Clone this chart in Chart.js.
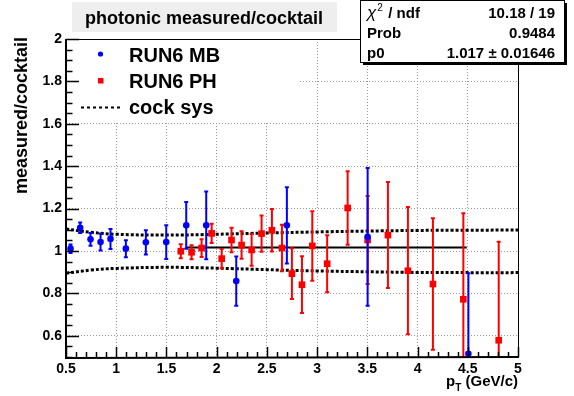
<!DOCTYPE html>
<html>
<head>
<meta charset="utf-8">
<script src="https://cdn.jsdelivr.net/npm/chart.js@4.4.1/dist/chart.umd.min.js"></script>
<style>
    html, body { margin: 0; padding: 0; background: #fff; }
    #contenedor { width: 574px; height: 396px; position: relative; }
</style>
</head>
<body>
<div id="contenedor"><canvas id="grafico" width="574" height="396"></canvas></div>
<script>
// RUN6 MB (azul)
let xMB   = [0.545, 0.641, 0.744, 0.844, 0.943, 1.096, 1.295, 1.498, 1.697, 1.896, 2.195, 2.699, 3.503, 4.506];
let yMB   = [1.011, 1.110, 1.055, 1.042, 1.057, 1.011, 1.041, 1.042, 1.121, 1.121, 0.858, 1.121, 1.067, 0.515];
let errMB = [0.020, 0.025, 0.030, 0.040, 0.047, 0.040, 0.057, 0.080, 0.110, 0.160, 0.116, 0.180, 0.325, 0.380];

// RUN6 PH (rojo)
let xPH   = [1.643, 1.75, 1.85, 1.95, 2.05, 2.148, 2.248, 2.348, 2.447, 2.55, 2.65, 2.749, 2.849, 2.952, 3.10, 3.304, 3.503, 3.705, 3.904, 4.153, 4.456, 4.808];
let yPH   = [0.999, 0.994, 1.014, 1.083, 0.964, 1.052, 1.028, 1.005, 1.082, 1.098, 1.014, 0.893, 0.841, 1.024, 0.940, 1.203, 1.052, 1.075, 0.907, 0.844, 0.772, 0.579];
let errPH = [0.033, 0.033, 0.042, 0.045, 0.045, 0.058, 0.065, 0.075, 0.086, 0.100, 0.110, 0.120, 0.134, 0.164, 0.134, 0.173, 0.208, 0.250, 0.300, 0.310, 0.406, 0.465];

// ajuste constante p0
let fitX = [1.69, 4.49];
let fitY = [1.017, 1.017];

// cock sys (bandas)
let sysX    = [0.5, 0.75, 1.0, 1.5, 2.0, 2.5, 3.0, 3.5, 4.0, 4.5, 5.0];
let sysUp   = [1.104, 1.088, 1.079, 1.075, 1.079, 1.085, 1.090, 1.094, 1.097, 1.098, 1.099];
let sysDown = [0.895, 0.910, 0.918, 0.923, 0.919, 0.912, 0.906, 0.902, 0.899, 0.898, 0.898];

// ejes
let xTicks = [0.5, 1, 1.5, 2, 2.5, 3, 3.5, 4, 4.5, 5];
let xTickLabels = ["0.5", "1", "1.5", "2", "2.5", "3", "3.5", "4", "4.5", "5"];
let yTicks = [0.6, 0.8, 1.0, 1.2, 1.4, 1.6, 1.8, 2.0];
let yTickLabels = ["0.6", "0.8", "1", "1.2", "1.4", "1.6", "1.8", "2"];

let statsLabels = ["ndf", "Prob", "p0"];
let statsValues = ["10.18 / 19", "0.9484", "1.017 \u00b1 0.01646"];

const FUENTE = "'Liberation Sans', Arial, Helvetica, sans-serif";

function puntos(xs, ys) {
    return xs.map((x, i) => ({ x: x, y: ys[i] }));
}

const pluginRoot = {
    id: "pluginRoot",
    beforeDatasetDraw(chart, args) {
        let ds = chart.data.datasets[args.index];
        if (!ds.errores) return;
        let ctx = chart.ctx, area = chart.chartArea;
        let sx = chart.scales.x, sy = chart.scales.y;
        ctx.save();
        ctx.beginPath();
        ctx.rect(area.left, area.top, area.right - area.left, area.bottom - area.top);
        ctx.clip();
        ctx.strokeStyle = ds.borderColor;
        ctx.lineWidth = 2;
        ds.data.forEach((p, i) => {
            let px = sx.getPixelForValue(p.x);
            let y1 = sy.getPixelForValue(p.y + ds.errores[i]);
            let y2 = sy.getPixelForValue(p.y - ds.errores[i]);
            ctx.beginPath();
            ctx.moveTo(px, y1); ctx.lineTo(px, y2);
            ctx.moveTo(px - 2, y1); ctx.lineTo(px + 2, y1);
            ctx.moveTo(px - 2, y2); ctx.lineTo(px + 2, y2);
            ctx.stroke();
        });
        ctx.restore();
    },
    afterDraw(chart) {
        let ctx = chart.ctx, a = chart.chartArea;
        let sx = chart.scales.x, sy = chart.scales.y;
        ctx.save();

        // leyenda
        ctx.fillStyle = "#fff";
        ctx.fillRect(a.left + 1, a.top + 1, 233, 83);
        ctx.fillStyle = "#0000ff";
        ctx.beginPath(); ctx.arc(100.5, 54, 2.6, 0, Math.PI * 2); ctx.fill();
        ctx.fillStyle = "#ff0000";
        ctx.fillRect(98, 78, 5.5, 5.5);
        ctx.strokeStyle = "#000"; ctx.lineWidth = 2; ctx.setLineDash([3, 3]);
        ctx.beginPath(); ctx.moveTo(81, 107.5); ctx.lineTo(120, 107.5); ctx.stroke();
        ctx.setLineDash([]);
        ctx.fillStyle = "#000";
        ctx.font = "bold 20px " + FUENTE;
        ctx.textAlign = "left"; ctx.textBaseline = "alphabetic";
        ctx.fillText("RUN6 MB", 129, 62);
        ctx.fillText("RUN6 PH", 129, 88);
        ctx.fillText("cock sys", 129, 114);

        // marco
        ctx.strokeStyle = "#000"; ctx.lineWidth = 1;
        ctx.strokeRect(a.left + 0.5, a.top + 0.5, a.right - a.left, a.bottom - a.top);
        ctx.lineWidth = 2;
        ctx.beginPath();
        ctx.moveTo(a.left, a.top); ctx.lineTo(a.left, a.bottom + 1); ctx.lineTo(a.right + 1, a.bottom);
        ctx.stroke();

        // marcas de los ejes
        ctx.lineWidth = 1.5;
        ctx.beginPath();
        for (let k = 5; k <= 50; k++) {
            let v = k / 10;
            let px = Math.round(sx.getPixelForValue(v)) + 0.5;
            let largo = (k % 5 === 0) ? 10 : 5;
            ctx.moveTo(px, a.bottom); ctx.lineTo(px, a.bottom - largo);
        }
        for (let k = 10; k <= 40; k++) {
            let v = k / 20;
            let py = Math.round(sy.getPixelForValue(v)) + 0.5;
            let largo = (k % 4 === 0) ? 13 : 6.5;
            ctx.moveTo(a.left, py); ctx.lineTo(a.left + largo, py);
        }
        ctx.stroke();

        // titulo eje y
        ctx.save();
        ctx.translate(22, 37);
        ctx.rotate(-Math.PI / 2);
        ctx.font = "bold 18px " + FUENTE;
        ctx.textAlign = "right"; ctx.textBaseline = "middle";
        ctx.fillText("measured/cocktail", 0, 0);
        ctx.restore();

        // titulo eje x
        ctx.textAlign = "left"; ctx.textBaseline = "alphabetic";
        ctx.font = "bold 15px " + FUENTE;
        let t2 = " (GeV/c)";
        let w2 = ctx.measureText(t2).width;
        let wp = ctx.measureText("p").width;
        ctx.font = "bold 10px " + FUENTE;
        let wT = ctx.measureText("T").width;
        let x0 = a.right - w2 - wT - wp;
        ctx.font = "bold 15px " + FUENTE;
        ctx.fillText("p", x0, 386);
        ctx.fillText(t2, x0 + wp + wT, 386);
        ctx.font = "bold 10px " + FUENTE;
        ctx.fillText("T", x0 + wp, 391);

        // caja del titulo
        ctx.fillStyle = "#eeeeee";
        ctx.fillRect(72, 2, 265, 30);
        ctx.fillStyle = "#000";
        ctx.font = "bold 18px " + FUENTE;
        ctx.textAlign = "center";
        ctx.fillText("photonic measured/cocktail", 204, 24);

        // caja de estadisticas
        ctx.fillStyle = "#000";
        ctx.fillRect(363, 3, 204, 62);
        ctx.fillStyle = "#fff";
        ctx.fillRect(360, 0, 204, 62);
        ctx.strokeStyle = "#000"; ctx.lineWidth = 1;
        ctx.strokeRect(360.5, 0.5, 204, 62);
        ctx.fillStyle = "#000";
        ctx.textAlign = "left";
        ctx.font = "italic 17px " + FUENTE;
        ctx.fillText("\u03c7", 367, 18);
        let wchi = ctx.measureText("\u03c7").width;
        ctx.font = "10px " + FUENTE;
        ctx.fillText("2", 367 + wchi + 1, 11);
        ctx.font = "bold 15px " + FUENTE;
        ctx.fillText("/ " + statsLabels[0], 367 + wchi + 12, 18);
        ctx.fillText(statsLabels[1], 367, 38);
        ctx.fillText(statsLabels[2], 367, 58);
        ctx.textAlign = "right";
        statsValues.forEach((v, i) => ctx.fillText(v, 555, 18 + 20 * i));

        ctx.restore();
    }
};

const fuenteTicks = { family: FUENTE, size: 14, weight: "bold" };

let grafico = new Chart(document.getElementById("grafico"), {
    type: "scatter",
    data: {
        datasets: [
            {
                label: "RUN6 MB",
                data: puntos(xMB, yMB),
                errores: errMB,
                pointStyle: "circle",
                pointRadius: 3.3,
                backgroundColor: "#0000ff",
                borderColor: "#0000ff",
                borderWidth: 0
            },
            {
                label: "RUN6 PH",
                data: puntos(xPH, yPH),
                errores: errPH,
                pointStyle: "rect",
                pointRadius: 4.7,
                backgroundColor: "#ff0000",
                borderColor: "#ff0000",
                borderWidth: 0
            },
            {
                label: "p0",
                data: puntos(fitX, fitY),
                showLine: true,
                borderColor: "#000",
                borderWidth: 2,
                pointRadius: 0
            },
            {
                label: "cock sys",
                data: puntos(sysX, sysUp),
                showLine: true,
                borderColor: "#000",
                borderWidth: 3,
                borderDash: [3, 2],
                tension: 0.4,
                pointRadius: 0
            },
            {
                label: "cock sys low",
                data: puntos(sysX, sysDown),
                showLine: true,
                borderColor: "#000",
                borderWidth: 3,
                borderDash: [3, 2],
                tension: 0.4,
                pointRadius: 0
            }
        ]
    },
    options: {
        responsive: false,
        animation: false,
        devicePixelRatio: 1,
        layout: { padding: { top: 39, right: 56, left: 0, bottom: 0 } },
        plugins: {
            legend: { display: false },
            tooltip: { enabled: false }
        },
        scales: {
            x: {
                type: "linear",
                min: 0.5,
                max: 5,
                afterBuildTicks: s => { s.ticks = xTicks.map(v => ({ value: v })); },
                afterFit: s => { s.height = 39; },
                ticks: {
                    autoSkip: false,
                    maxRotation: 0,
                    color: "#000",
                    padding: 4,
                    font: fuenteTicks,
                    callback: v => xTickLabels[xTicks.indexOf(v)]
                },
                grid: { color: "#999", lineWidth: 1, drawTicks: false },
                border: { display: false, dash: [1, 2] }
            },
            y: {
                type: "linear",
                min: 0.5,
                max: 2,
                afterBuildTicks: s => { s.ticks = yTicks.map(v => ({ value: v })); },
                afterFit: s => { s.width = 66; },
                ticks: {
                    autoSkip: false,
                    color: "#000",
                    padding: 4,
                    font: fuenteTicks,
                    callback: v => yTickLabels[yTicks.indexOf(v)]
                },
                grid: { color: "#999", lineWidth: 1, drawTicks: false },
                border: { display: false, dash: [1, 2] }
            }
        }
    },
    plugins: [pluginRoot]
});
</script>
</body>
</html>
